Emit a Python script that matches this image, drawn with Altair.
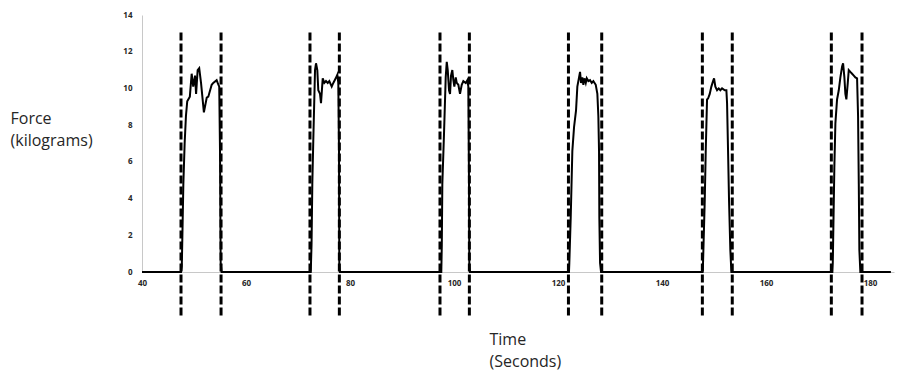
import altair as alt
import pandas as pd

# ---- data ----
start_t, start_f = [40.0], [0.0]
end_t, end_f = [184.0], [0.0]

p1_t = [47.5, 47.65, 47.8, 47.95, 48.2, 48.45, 48.7, 49.2, 49.55, 49.85, 50.2, 50.4, 50.7, 51.0,
        51.35, 51.9, 52.45, 52.75, 53.4, 53.7, 54.35, 54.55, 54.85, 55.0, 55.13, 55.3]
p1_f = [0, 0.3, 2.5, 4.8, 7.0, 8.5, 9.3, 9.55, 10.8, 10.1, 10.7, 9.7, 11.0, 11.1,
        10.3, 8.7, 9.5, 9.55, 10.2, 10.3, 10.45, 10.3, 10.1, 6.6, 0.5, 0]

p2_t = [72.45, 72.6, 72.75, 72.94, 73.27, 73.46, 73.71, 73.9, 74.23, 74.42, 74.75, 75.06, 75.38,
        75.71, 76.02, 76.48, 76.79, 77.25, 77.56, 77.75, 77.88, 77.94, 78.05]
p2_f = [0, 1.5, 4.8, 7.2, 11.0, 11.37, 11.0, 9.9, 9.7, 9.2, 10.55, 10.3, 10.4,
        10.3, 10.4, 10.1, 10.3, 10.55, 10.75, 10.3, 6.6, 0.3, 0]

p3_t = [97.55, 97.65, 97.75, 98.08, 98.4, 98.6, 98.79, 99.04, 99.23, 99.42, 99.67, 99.87, 100.06,
        100.33, 100.52, 100.83, 101.15, 101.48, 101.79, 102.25, 102.56, 102.75, 102.88, 102.94, 103.05]
p3_f = [0, 1.5, 4.8, 7.6, 10.6, 11.45, 11.0, 9.9, 9.7, 10.7, 11.0, 10.45, 10.1,
        10.6, 10.3, 10.2, 9.7, 10.2, 10.4, 10.3, 10.45, 10.1, 4.8, 0.3, 0]

p4_t = [122.1, 122.17, 122.44, 122.75, 123.08, 123.46, 123.71, 124.04, 124.23, 124.42, 124.67,
        124.87, 125.06, 125.33, 125.52, 125.83, 126.15, 126.48, 126.79, 127.25, 127.56, 127.75,
        127.88, 127.94, 128.08, 128.27]
p4_f = [0, 0.5, 3.0, 6.6, 7.9, 8.8, 10.1, 10.6, 10.9, 10.3, 10.6,
        10.2, 10.55, 10.3, 10.55, 10.4, 10.45, 10.3, 10.4, 10.2, 9.7, 8.5,
        6.6, 3.0, 0.5, 0]

p5_t = [147.8, 147.88, 148.21, 148.4, 148.65, 148.85, 149.17, 149.48, 149.81, 150.0, 150.25,
        150.58, 150.9, 151.21, 151.54, 152.06, 152.37, 152.5, 152.69, 152.88, 153.13, 153.33]
p5_f = [0, 0.5, 3.9, 6.6, 9.4, 9.45, 9.7, 10.1, 10.4, 10.55, 10.1,
        9.9, 10.0, 9.9, 10.0, 9.9, 9.9, 9.2, 6.6, 3.9, 1.2, 0]

p6_t = [172.75, 172.83, 173.13, 173.33, 173.65, 173.98, 174.29, 174.62, 174.81, 175.06, 175.25,
        175.44, 175.71, 175.9, 176.21, 176.54, 176.87, 177.17, 177.5, 177.69, 177.83, 177.94, 178.13]
p6_f = [0, 0.5, 5.7, 8.1, 9.4, 9.9, 10.6, 11.2, 11.37, 10.6, 9.7,
        9.4, 10.3, 11.0, 10.9, 10.8, 10.7, 10.6, 10.55, 8.5, 4.8, 1.2, 0]

marker_times = [47.5, 55.2, 72.3, 77.95, 97.3, 102.95, 122.0, 128.4, 147.75, 153.5, 172.55, 178.45]
marker_top = 13.05
marker_bottom = -2.4

x_ticks = [40, 60, 80, 100, 120, 140, 160, 180]
y_ticks = [0, 2, 4, 6, 8, 10, 12, 14]

# ---- build tables ----
times = start_t + p1_t + p2_t + p3_t + p4_t + p5_t + p6_t + end_t
forces = start_f + p1_f + p2_f + p3_f + p4_f + p5_f + p6_f + end_f
df = pd.DataFrame({"t": times, "f": forces, "i": range(len(times))})
mk = pd.DataFrame({"t": marker_times, "top": [marker_top] * len(marker_times),
                   "bottom": [marker_bottom] * len(marker_times)})

FONT = "Open Sans"

xscale = alt.Scale(domain=[40, 184.6], nice=False, zero=False)
yscale = alt.Scale(domain=[0, 14], nice=False)

x_axis = alt.Axis(values=x_ticks, title=["Time", "(Seconds)"], ticks=False,
                  labelPadding=7, titleX=347, titleY=59, titleAlign="left",
                  titleBaseline="top", titleAngle=0, labelOverlap=False, labelFlush=False)
y_axis = alt.Axis(values=y_ticks, title=["Force", "(kilograms)"], ticks=False,
                  labelPadding=10, titleX=-132, titleY=95, titleAlign="left",
                  titleBaseline="top", titleAngle=0, labelOverlap=False,
                  labelFlush=False, tickCount=8)

line = alt.Chart(df).mark_line(color="black", strokeWidth=2).encode(
    x=alt.X("t:Q", scale=xscale, axis=x_axis),
    y=alt.Y("f:Q", scale=yscale, axis=y_axis),
    order="i:Q",
)

rules = alt.Chart(mk).mark_rule(color="black", strokeWidth=3, strokeDash=[8, 3], clip=False).encode(
    x=alt.X("t:Q", scale=xscale, axis=x_axis),
    y=alt.Y("top:Q", scale=yscale, axis=y_axis),
    y2="bottom:Q",
)

chart = (line + rules).properties(
    width=752, height=257,
    autosize=alt.AutoSizeParams(type="none"),
    padding={"left": 134, "top": 7, "right": 10, "bottom": 100},
).configure_view(stroke=None).configure_axis(
    grid=False,
    domainColor="#c8c8c8",
    domainWidth=1,
    labelFont=FONT,
    labelFontSize=8,
    labelFontWeight="bold",
    labelColor="#262626",
    titleFont=FONT,
    titleFontSize=16,
    titleFontWeight="normal",
    titleColor="#262626",
    titleLineHeight=22,
)

chart.save("out.html", embed_options={"renderer": "svg", "actions": False})
